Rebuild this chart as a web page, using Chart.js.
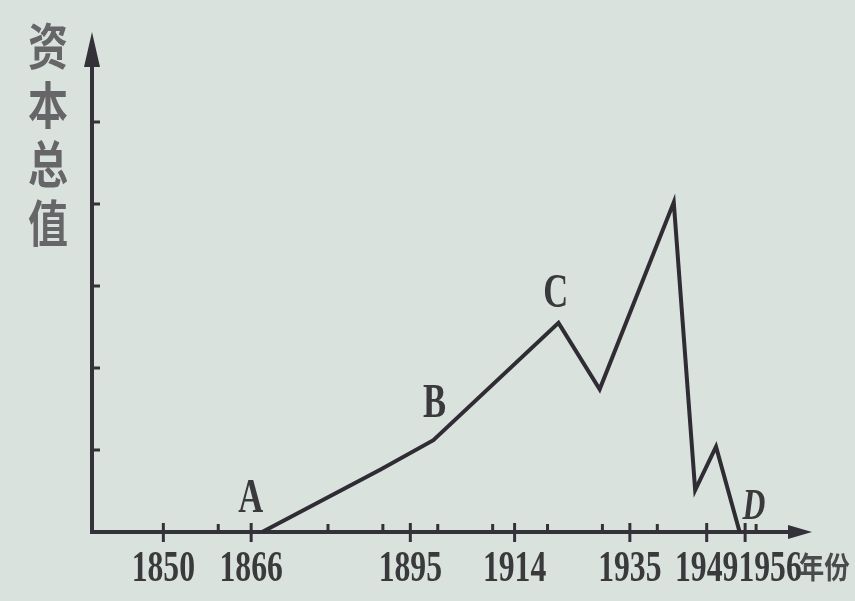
<!DOCTYPE html>
<html>
<head>
<meta charset="utf-8">
<script src="https://cdn.jsdelivr.net/npm/chart.js@4.4.0/dist/chart.umd.min.js"></script>
<style>
html,body{margin:0;padding:0;background:#dae2de;overflow:hidden;}
#wrap{width:855px;height:601px;position:relative;}
</style>
</head>
<body>
<div id="wrap"><canvas id="c"></canvas></div>
<script>
// values (year, relative capital total)
var years = [1868, 1889.5, 1899.2, 1922, 1929.5, 1943, 1946.9, 1950.7, 1955];
var values = [0, 0.76, 1.12, 2.55, 1.74, 4.02, 0.51, 1.04, 0];
var yearLabels = [1850, 1866, 1895, 1914, 1935, 1949, 1956];
var minorYears = [1860, 1880, 1890, 1900, 1910, 1920, 1930, 1940, 1958];
var yTicks = [1, 2, 3, 4, 5];
var pointNames = ['A', 'B', 'C', 'D'];
var pointYears = [1865.9, 1899.4, 1921.5, 1957.6];
var pointValues = [0.40, 1.55, 2.90, 0.30];
var yTitle = '资本总值';
var xTitle = '年份';

var ink = '#34313b';
var textInk = '#3a3a3c';

function squeezeText(ctx, text, x, y, sx){
	ctx.save();
	ctx.translate(x, y);
	ctx.scale(sx, 1);
	ctx.fillText(text, 0, 0);
	ctx.restore();
}

var axesPlugin = {
	id: 'axes',
	beforeDatasetsDraw: function(chart){
		var ctx = chart.ctx;
		var xs = chart.scales.x, ys = chart.scales.y;
		var x0 = xs.left, y0 = ys.bottom;
		ctx.save();
		ctx.strokeStyle = ink;
		ctx.fillStyle = ink;
		ctx.lineWidth = 4;
		ctx.lineCap = 'butt';
		// y axis + arrow
		ctx.beginPath();
		ctx.moveTo(x0, y0 + 2);
		ctx.lineTo(x0, ys.top + 20);
		ctx.stroke();
		ctx.beginPath();
		ctx.moveTo(x0, ys.top - 8);
		ctx.lineTo(x0 - 8, ys.top + 27);
		ctx.lineTo(x0 + 8, ys.top + 27);
		ctx.closePath();
		ctx.fill();
		// x axis + arrow
		ctx.beginPath();
		ctx.moveTo(x0 - 2, y0);
		ctx.lineTo(xs.right - 5, y0);
		ctx.stroke();
		ctx.beginPath();
		ctx.moveTo(xs.right + 12, y0);
		ctx.lineTo(xs.right - 12, y0 - 7);
		ctx.lineTo(xs.right - 12, y0 + 7);
		ctx.closePath();
		ctx.fill();
		// y ticks
		ctx.lineWidth = 3;
		yTicks.forEach(function(v){
			var py = ys.getPixelForValue(v);
			ctx.beginPath();
			ctx.moveTo(x0, py);
			ctx.lineTo(x0 + 8, py);
			ctx.stroke();
		});
		// x ticks
		minorYears.forEach(function(yr){
			var px = xs.getPixelForValue(yr);
			ctx.beginPath();
			ctx.moveTo(px, y0);
			ctx.lineTo(px, y0 - 8);
			ctx.stroke();
		});
		yearLabels.forEach(function(yr){
			var px = xs.getPixelForValue(yr);
			ctx.beginPath();
			ctx.moveTo(px, y0 - 9);
			ctx.lineTo(px, y0 + 10);
			ctx.stroke();
		});
		ctx.restore();
	},
	afterDatasetsDraw: function(chart){
		var ctx = chart.ctx;
		var xs = chart.scales.x, ys = chart.scales.y;
		ctx.save();
		ctx.fillStyle = textInk;
		// year labels, pushed right when they would overlap
		ctx.font = 'bold 44px "Liberation Serif"';
		ctx.textAlign = 'left';
		ctx.textBaseline = 'alphabetic';
		var sx = 0.72;
		var prevRight = -1000;
		yearLabels.forEach(function(yr){
			var w = ctx.measureText(String(yr)).width * sx;
			var left = xs.getPixelForValue(yr) - w / 2;
			if(left < prevRight) left = prevRight;
			squeezeText(ctx, String(yr), left, 581, sx);
			prevRight = left + w;
		});
		// x axis title
		ctx.font = 'bold 30px "Noto Sans CJK SC"';
		ctx.fillStyle = '#4b4b4d';
		squeezeText(ctx, xTitle, prevRight - 3, 578, 0.85);
		// y axis title, stacked characters
		ctx.font = 'bold 50px "Noto Sans CJK SC"';
		ctx.fillStyle = '#666668';
		ctx.textAlign = 'center';
		ctx.textBaseline = 'middle';
		for(var i = 0; i < yTitle.length; i++){
			squeezeText(ctx, yTitle.charAt(i), 48, 46 + i * 59, 0.8);
		}
		// point names
		ctx.fillStyle = textInk;
		ctx.font = 'bold 48px "Liberation Serif"';
		pointNames.forEach(function(n, i){
			var px = xs.getPixelForValue(pointYears[i]);
			var py = ys.getPixelForValue(pointValues[i]);
			if(n == 'D') ctx.font = 'italic bold 44px "Liberation Serif"';
			squeezeText(ctx, n, px, py, 0.72);
		});
		ctx.restore();
	}
};

new Chart(document.getElementById('c'), {
	type: 'line',
	data: {
		datasets: [{
			data: years.map(function(y, i){ return {x: y, y: values[i]}; }),
			borderColor: '#2f2d33',
			borderWidth: 4,
			borderJoinStyle: 'miter',
			pointRadius: 0,
			tension: 0,
			fill: false
		}]
	},
	options: {
		responsive: true,
		maintainAspectRatio: false,
		animation: false,
		layout: {padding: {left: 92, right: 55, top: 40, bottom: 69}},
		plugins: {legend: {display: false}, tooltip: {enabled: false}},
		scales: {
			x: {type: 'linear', min: 1837, max: 1966, display: false},
			y: {min: 0, max: 6, display: false}
		}
	},
	plugins: [axesPlugin]
});
</script>
</body>
</html>
